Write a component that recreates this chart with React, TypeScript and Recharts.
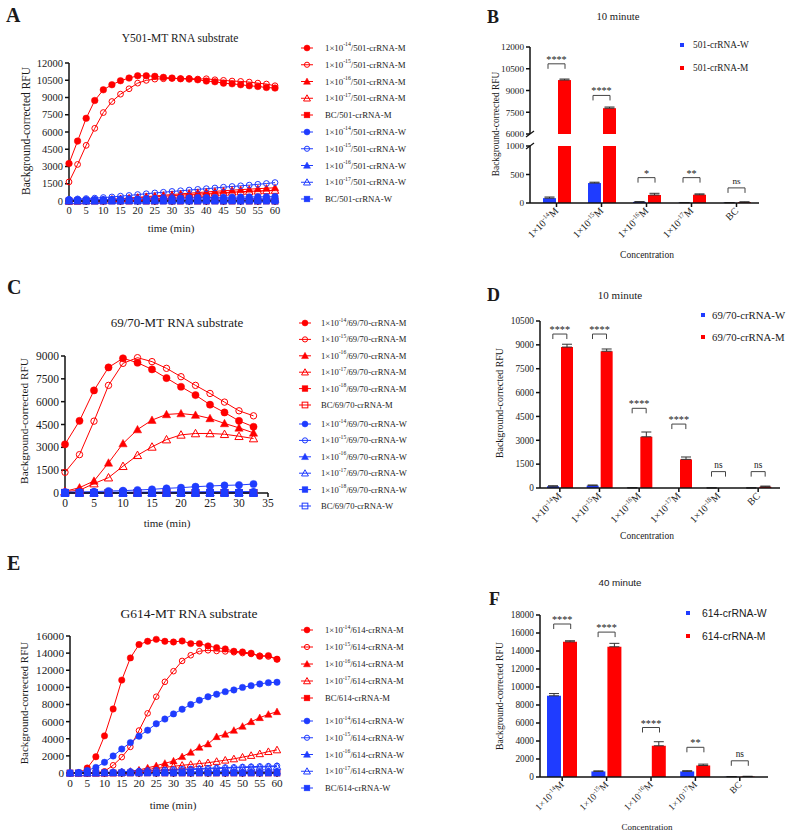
import React from 'react';
import { LineChart, Line, XAxis, YAxis, BarChart, Bar, ErrorBar, ReferenceDot } from 'recharts';

const SERIF = '"Liberation Serif", "Times New Roman", serif';
const SANS = '"Liberation Sans", Arial, sans-serif';
const INK = '#1a1a1a';
const RED = '#ff0000';
const BLUE = '#1f3cff';
const AX = { stroke: '#111', strokeWidth: 1.5 };

// ---------- A: Y501-MT RNA substrate ----------
const timeA = [0, 2.5, 5, 7.5, 10, 12.5, 15, 17.5, 20, 22.5, 25, 27.5, 30, 32.5, 35, 37.5, 40, 42.5, 45, 47.5, 50, 52.5, 55, 57.5, 60];
const a14M = [3260, 5210, 7190, 8740, 9670, 10110, 10460, 10690, 10890, 10890, 10840, 10750, 10690, 10630, 10600, 10540, 10430, 10370, 10250, 10190, 10110, 10020, 9960, 9870, 9820];
const a15M = [1660, 3180, 4840, 6320, 7690, 8650, 9290, 9760, 10250, 10490, 10600, 10630, 10660, 10630, 10660, 10600, 10630, 10540, 10490, 10430, 10400, 10340, 10250, 10170, 10020];
const a16M = [0, 20, 40, 70, 100, 150, 200, 260, 320, 380, 440, 500, 560, 620, 680, 730, 790, 840, 890, 940, 990, 1030, 1070, 1110, 1150];
const a17M = [0, 10, 30, 50, 80, 120, 160, 210, 260, 310, 360, 410, 460, 510, 560, 600, 650, 690, 730, 770, 810, 840, 870, 900, 930];
const aBCM = [0, 0, 10, 0, 0, 10, 0, 0, 10, 0, 0, 10, 0, 0, 10, 0, 0, 10, 0, 0, 10, 0, 0, 10, 0];
const a14W = [100, 110, 110, 120, 130, 140, 150, 170, 180, 200, 210, 230, 240, 260, 270, 290, 300, 310, 320, 330, 340, 350, 360, 370, 380];
const a15W = [150, 180, 210, 250, 300, 350, 420, 480, 560, 630, 700, 760, 830, 890, 950, 1010, 1070, 1130, 1200, 1260, 1320, 1380, 1450, 1520, 1600];
const a16W = [60, 60, 70, 70, 80, 80, 90, 100, 100, 110, 120, 130, 140, 150, 160, 170, 180, 190, 200, 200, 210, 220, 230, 240, 250];
const a17W = [20, 20, 30, 30, 40, 40, 50, 50, 60, 60, 70, 70, 80, 80, 90, 90, 100, 100, 110, 110, 120, 120, 130, 130, 140];
const aBCW = [0, 5, 0, 0, 5, 0, 0, 5, 0, 0, 5, 0, 0, 5, 0, 0, 5, 0, 0, 5, 0, 0, 5, 0, 0];
const aXTicks = [0, 5, 10, 15, 20, 25, 30, 35, 40, 45, 50, 55, 60];
const aYTicks = [0, 1500, 3000, 4500, 6000, 7500, 9000, 10500, 12000];

// ---------- C: 69/70-MT RNA substrate ----------
const timeC = [0, 2.5, 5, 7.5, 10, 12.5, 15, 17.5, 20, 22.5, 25, 27.5, 30, 32.5];
const c14M = [3200, 4740, 6740, 8250, 8850, 8560, 8120, 7550, 6980, 6430, 5800, 5290, 4740, 4350];
const c15M = [1360, 2520, 4720, 7070, 8520, 8890, 8630, 8190, 7640, 7070, 6540, 5970, 5400, 5070];
const c16M = [110, 350, 790, 1980, 3250, 4170, 4790, 5160, 5220, 5120, 4900, 4570, 4280, 3950];
const c17M = [90, 180, 620, 1010, 1760, 2480, 3030, 3510, 3820, 3910, 3910, 3860, 3730, 3580];
const c18M = [30, 25, 20, 25, 30, 20, 25, 30, 20, 25, 30, 25, 20, 25];
const cBCM = [0, 5, 0, 5, 0, 5, 0, 0, 5, 0, 0, 5, 0, 0];
const c14W = [60, 66, 88, 131, 153, 197, 240, 307, 350, 415, 460, 500, 525, 590];
const c15W = [40, 42, 50, 52, 60, 58, 66, 70, 74, 78, 85, 88, 92, 96];
const c16W = [20, 22, 25, 24, 28, 30, 32, 30, 35, 36, 38, 40, 40, 42];
const c17W = [10, 12, 10, 15, 14, 16, 18, 15, 20, 18, 22, 20, 24, 22];
const c18W = [0, 2, 0, 3, 2, 0, 4, 2, 0, 3, 2, 4, 2, 3];
const cBCW = [0, 0, 2, 0, 0, 3, 0, 0, 2, 0, 0, 2, 0, 0];
const cXTicks = [0, 5, 10, 15, 20, 25, 30, 35];
const cYTicks = [0, 1500, 3000, 4500, 6000, 7500, 9000];

// ---------- E: G614-MT RNA substrate ----------
const timeE = [0, 2.5, 5, 7.5, 10, 12.5, 15, 17.5, 20, 22.5, 25, 27.5, 30, 32.5, 35, 37.5, 40, 42.5, 45, 47.5, 50, 52.5, 55, 57.5, 60];
const e14M = [0, 0, 580, 1900, 4340, 7480, 10850, 13440, 15000, 15380, 15610, 15380, 15300, 15420, 15110, 15110, 14840, 14640, 14490, 14220, 14140, 13990, 13640, 13710, 13290];
const e15M = [0, 0, 0, 20, 200, 900, 1850, 3050, 4960, 6970, 8910, 10650, 11890, 13090, 13750, 14220, 14330, 14250, 14200, 14100, 14000, 13900, 13700, 13600, 13300];
const e16M = [0, 0, 0, 0, 20, 50, 100, 200, 350, 600, 850, 1130, 1400, 1910, 2410, 3000, 3390, 4240, 4520, 4980, 5450, 5990, 6460, 6850, 7160];
const e17M = [0, 0, 0, 0, 10, 30, 60, 120, 250, 400, 550, 650, 780, 900, 1000, 1100, 1200, 1350, 1500, 1650, 1850, 2050, 2250, 2500, 2700];
const eBCM = [0, 0, 0, 10, 0, 0, 0, 0, 0, 10, 0, 0, 0, 0, 0, 0, 0, 0, 0, 0, 0, 0, 0, 0, 0];
const e14W = [0, 50, 300, 650, 1250, 1990, 2800, 3550, 4300, 5000, 5750, 6300, 6900, 7450, 8000, 8500, 8900, 9200, 9500, 9700, 10000, 10200, 10400, 10550, 10600];
const e15W = [0, 10, 30, 60, 90, 120, 160, 200, 240, 290, 330, 360, 400, 450, 480, 520, 560, 600, 640, 660, 710, 740, 770, 800, 840];
const e16W = [0, 10, 20, 30, 40, 50, 60, 60, 70, 80, 90, 100, 100, 110, 120, 130, 140, 150, 150, 160, 170, 180, 190, 200, 210];
const e17W = [0, 0, 10, 20, 40, 60, 90, 120, 160, 200, 240, 280, 320, 360, 400, 440, 480, 520, 560, 590, 630, 660, 690, 720, 760];
const eBCW = [0, 0, 0, 0, 0, 0, 0, 0, 0, 0, 0, 0, 0, 0, 0, 0, 0, 0, 0, 0, 0, 0, 0, 0, 0];
const eXTicks = [0, 5, 10, 15, 20, 25, 30, 35, 40, 45, 50, 55, 60];
const eYTicks = [0, 2000, 4000, 6000, 8000, 10000, 12000, 14000, 16000];

// ---------- B: 10 minute (501) ----------
const bCats = ['-14', '-15', '-16', '-17', 'BC'];
const bW = [85, 350, 20, 5, 5];
const bM = [9720, 7780, 140, 145, 15];
const bWErr = [20, 15, 5, 2, 2];
const bMErr = [70, 80, 30, 15, 5];
const bSig = ['****', '****', '*', '**', 'ns'];
const bSigAt = [10840, 8660, 445, 445, 265];

// ---------- D: 10 minute (69/70) ----------
const dCats = ['-14', '-15', '-16', '-17', '-18', 'BC'];
const dW = [110, 150, 10, 0, 5, 5];
const dM = [8860, 8600, 3220, 1800, 0, 80];
const dWErr = [30, 40, 5, 0, 3, 3];
const dMErr = [180, 140, 300, 150, 0, 40];
const dSig = ['****', '****', '****', '****', 'ns', 'ns'];
const dSigAt = [9680, 9680, 5010, 4020, 1030, 1030];

// ---------- F: 40 minute (614) ----------
const fCats = ['-14', '-15', '-16', '-17', 'BC'];
const fW = [9020, 620, 0, 620, 30];
const fM = [15020, 14470, 3470, 1280, 50];
const fWErr = [250, 60, 0, 80, 20];
const fMErr = [120, 380, 450, 150, 30];
const fSig = ['****', '****', '****', '**', 'ns'];
const fSigAt = [17000, 16100, 5500, 3300, 1800];

type Series = { values: number[]; color: string; shape: string; sup: string | null; tail: string };

const mk = (values: number[], color: string, shape: string, sup: string | null, tail: string): Series => ({ values, color, shape, sup, tail });

const aSeries = [
  mk(a14M, RED, 'circle', '-14', '/501-crRNA-M'),
  mk(a15M, RED, 'openCircle', '-15', '/501-crRNA-M'),
  mk(a16M, RED, 'tri', '-16', '/501-crRNA-M'),
  mk(a17M, RED, 'openTri', '-17', '/501-crRNA-M'),
  mk(aBCM, RED, 'square', null, 'BC/501-crRNA-M'),
  mk(a14W, BLUE, 'circle', '-14', '/501-crRNA-W'),
  mk(a15W, BLUE, 'openCircle', '-15', '/501-crRNA-W'),
  mk(a16W, BLUE, 'tri', '-16', '/501-crRNA-W'),
  mk(a17W, BLUE, 'openTri', '-17', '/501-crRNA-W'),
  mk(aBCW, BLUE, 'square', null, 'BC/501-crRNA-W'),
];

const cSeries = [
  mk(c14M, RED, 'circle', '-14', '/69/70-crRNA-M'),
  mk(c15M, RED, 'openCircle', '-15', '/69/70-crRNA-M'),
  mk(c16M, RED, 'tri', '-16', '/69/70-crRNA-M'),
  mk(c17M, RED, 'openTri', '-17', '/69/70-crRNA-M'),
  mk(c18M, RED, 'square', '-18', '/69/70-crRNA-M'),
  mk(cBCM, RED, 'openSquare', null, 'BC/69/70-crRNA-M'),
  mk(c14W, BLUE, 'circle', '-14', '/69/70-crRNA-W'),
  mk(c15W, BLUE, 'openCircle', '-15', '/69/70-crRNA-W'),
  mk(c16W, BLUE, 'tri', '-16', '/69/70-crRNA-W'),
  mk(c17W, BLUE, 'openTri', '-17', '/69/70-crRNA-W'),
  mk(c18W, BLUE, 'square', '-18', '/69/70-crRNA-W'),
  mk(cBCW, BLUE, 'openSquare', null, 'BC/69/70-crRNA-W'),
];

const eSeries = [
  mk(e14M, RED, 'circle', '-14', '/614-crRNA-M'),
  mk(e15M, RED, 'openCircle', '-15', '/614-crRNA-M'),
  mk(e16M, RED, 'tri', '-16', '/614-crRNA-M'),
  mk(e17M, RED, 'openTri', '-17', '/614-crRNA-M'),
  mk(eBCM, RED, 'square', null, 'BC/614-crRNA-M'),
  mk(e14W, BLUE, 'circle', '-14', '/614-crRNA-W'),
  mk(e15W, BLUE, 'openCircle', '-15', '/614-crRNA-W'),
  mk(e16W, BLUE, 'tri', '-16', '/614-crRNA-W'),
  mk(e17W, BLUE, 'openTri', '-17', '/614-crRNA-W'),
  mk(eBCW, BLUE, 'square', null, 'BC/614-crRNA-W'),
];

function Mark({ cx, cy, shape, color, r }: any) {
  if (cx == null || cy == null || isNaN(cx) || isNaN(cy)) return null;
  const open = shape.startsWith('open');
  const fill = open ? 'none' : color;
  const sw = open ? 1 : 0.5;
  if (shape === 'circle' || shape === 'openCircle') {
    return <circle cx={cx} cy={cy} r={open ? r - 0.4 : r} fill={fill} stroke={color} strokeWidth={sw} />;
  }
  if (shape === 'tri' || shape === 'openTri') {
    const h = r * 1.15;
    return <path d={`M${cx},${cy - h}L${cx + h},${cy + h * 0.8}L${cx - h},${cy + h * 0.8}Z`} fill={fill} stroke={color} strokeWidth={sw} />;
  }
  const s = r * 0.95;
  return <rect x={cx - s} y={cy - s} width={s * 2} height={s * 2} fill={fill} stroke={color} strokeWidth={sw} />;
}

function LinePanel({ left, top, width, height, margin, yWidth, time, series, xDomain, xTicks, yDomain, yTicks, fs, r }: any) {
  const rows = time.map((t: number, i: number) => {
    const row: any = { t };
    series.forEach((s: Series, j: number) => { row['s' + j] = s.values[i]; });
    return row;
  });
  return (
    <div style={{ position: 'absolute', left, top }}>
      <LineChart width={width} height={height} data={rows} margin={margin}>
        <XAxis type="number" dataKey="t" domain={xDomain} ticks={xTicks} interval={0} height={25}
          tickSize={4} tickMargin={2} axisLine={AX} tickLine={AX}
          tick={{ fontSize: fs, fontFamily: SERIF, fill: INK }} />
        <YAxis type="number" domain={yDomain} ticks={yTicks} interval={0} width={yWidth}
          tickSize={4} tickMargin={2} axisLine={AX} tickLine={AX}
          tick={{ fontSize: fs, fontFamily: SERIF, fill: INK }} />
        {series.map((s: Series, j: number) => (
          <Line key={j} type="linear" dataKey={'s' + j} stroke={s.color} strokeWidth={1}
            dot={(p: any) => <Mark key={`${j}-${p.index}`} cx={p.cx} cy={p.cy} shape={s.shape} color={s.color} r={r} />}
            activeDot={false} isAnimationActive={false} />
        ))}
      </LineChart>
    </div>
  );
}

function ConcTick({ x, y, payload, fs }: any) {
  const v = payload.value;
  return (
    <g transform={`translate(${x},${y})`}>
      <text transform="rotate(-45)" textAnchor="end" fontSize={fs} fontFamily={SERIF} fill={INK} dy={fs * 0.35}>
        {v === 'BC' ? 'BC' : (
          <>
            1×10<tspan dy={-fs * 0.4} fontSize={fs * 0.65}>{v}</tspan><tspan dy={fs * 0.4}>M</tspan>
          </>
        )}
      </text>
    </g>
  );
}

function Bracket({ cx, cy, label, half, fs }: any) {
  if (cx == null || cy == null) return null;
  const stars = label !== 'ns';
  return (
    <g>
      <path d={`M${cx - half},${cy + 5}V${cy}H${cx + half}V${cy + 5}`} fill="none" stroke="#444" strokeWidth={1} />
      <text x={cx} y={stars ? cy - 1 : cy - 4} textAnchor="middle" fontSize={stars ? fs + 1 : fs} fontFamily={SERIF} fill={INK}>{label}</text>
    </g>
  );
}

function BarPanel({ left, top, width, height, margin, rows, yDomain, yTicks, overflow, hideX, xPad, barSize, tickFs, xFs, brackets, half, xHeight, wErr }: any) {
  return (
    <div style={{ position: 'absolute', left, top }}>
      <BarChart width={width} height={height} data={rows} margin={margin} barGap={2} barSize={barSize}>
        <XAxis dataKey="cat" hide={hideX} height={xHeight} padding={xPad} interval={0} tickSize={4} tickMargin={2}
          axisLine={AX} tickLine={AX} tick={(p: any) => <ConcTick {...p} fs={xFs} />} />
        <YAxis type="number" domain={yDomain} ticks={yTicks} interval={0} allowDataOverflow={overflow} width={45}
          tickSize={4} tickMargin={2} axisLine={AX} tickLine={AX}
          tick={{ fontSize: tickFs, fontFamily: SERIF, fill: INK }} />
        <Bar dataKey="w" fill={BLUE} isAnimationActive={false}>
          {wErr && <ErrorBar dataKey="wErr" width={5} stroke="#333" strokeWidth={1} direction="y" />}
        </Bar>
        <Bar dataKey="m" fill={RED} isAnimationActive={false}>
          <ErrorBar dataKey="mErr" width={5} stroke="#333" strokeWidth={1} direction="y" />
        </Bar>
        {brackets.map((b: any) => (
          <ReferenceDot key={b.cat} x={b.cat} y={b.y} r={0} ifOverflow="visible"
            shape={(p: any) => <Bracket cx={p.cx} cy={p.cy} label={b.label} half={half} fs={tickFs} />} />
        ))}
      </BarChart>
    </div>
  );
}

function Conc({ x, y, fs, sup, tail, family = SERIF }: any) {
  return (
    <text x={x} y={y} fontSize={fs} fontFamily={family} fill={INK} dominantBaseline="central">
      {sup === null ? tail : (
        <>
          1×10<tspan dy={-fs * 0.4} fontSize={fs * 0.65}>{sup}</tspan><tspan dy={fs * 0.4}>{tail}</tspan>
        </>
      )}
    </text>
  );
}

function LineLegend({ x, textX, ys, series, fs, r }: any) {
  return (
    <g>
      {series.map((s: Series, i: number) => (
        <g key={i}>
          <line x1={x - 6} x2={x + 6} y1={ys[i]} y2={ys[i]} stroke={s.color} strokeWidth={1} />
          <Mark cx={x} cy={ys[i]} shape={s.shape} color={s.color} r={r} />
          <Conc x={textX} y={ys[i]} fs={fs} sup={s.sup} tail={s.tail} />
        </g>
      ))}
    </g>
  );
}

function T({ x, y, fs, children, anchor = 'start', weight = 'normal', family = SERIF, rotate = false }: any) {
  if (rotate) {
    return (
      <text transform={`translate(${x},${y}) rotate(-90)`} textAnchor="middle" dominantBaseline="central"
        fontSize={fs} fontFamily={family} fill={INK}>{children}</text>
    );
  }
  return (
    <text x={x} y={y} fontSize={fs} textAnchor={anchor} fontFamily={family} fontWeight={weight}
      fill={INK} dominantBaseline="central">{children}</text>
  );
}

const rowsSplit = (n: number, start: number, step: number, n2: number, start2: number, step2: number) => {
  const out: number[] = [];
  for (let i = 0; i < n; i++) out.push(start + i * step);
  for (let j = 0; j < n2; j++) out.push(start2 + j * step2);
  return out;
};

const sigList = (cats: string[], sig: string[], at: number[], keep: (v: number) => boolean) =>
  cats.map((cat, i) => ({ cat, label: sig[i], y: at[i] })).filter((b) => keep(b.y));

export default function App() {
  const bTop = bCats.map((cat, i) => ({
    cat,
    w: bW[i] > 6000 ? bW[i] : null,
    m: bM[i] > 6000 ? bM[i] : null,
    mErr: bM[i] > 6000 ? [0, bMErr[i]] : null,
  }));
  const bBottom = bCats.map((cat, i) => ({ cat, w: bW[i], m: bM[i], wErr: [0, bWErr[i]], mErr: [0, bMErr[i]] }));
  const dRows = dCats.map((cat, i) => ({ cat, w: dW[i], m: dM[i], wErr: [0, dWErr[i]], mErr: [0, dMErr[i]] }));
  const fRows = fCats.map((cat, i) => ({ cat, w: fW[i], m: fM[i], wErr: [0, fWErr[i]], mErr: [0, fMErr[i]] }));

  return (
    <div style={{ position: 'absolute', left: 0, top: 0, width: 789, height: 833, background: '#fff', overflow: 'hidden' }}>
      <LinePanel left={0} top={0} width={300} height={240} margin={{ top: 63, right: 25, bottom: 14, left: 29 }}
        yWidth={40} time={timeA} series={aSeries} xDomain={[0, 60]} xTicks={aXTicks} yDomain={[0, 12000]} yTicks={aYTicks} fs={10.5} r={3.3} />
      <LinePanel left={0} top={270} width={300} height={270} margin={{ top: 86, right: 32, bottom: 22, left: 25 }}
        yWidth={40} time={timeC} series={cSeries} xDomain={[0, 35]} xTicks={cXTicks} yDomain={[0, 9000]} yTicks={cYTicks} fs={11.5} r={3.6} />
      <LinePanel left={0} top={545} width={300} height={288} margin={{ top: 91, right: 23, bottom: 35, left: 25 }}
        yWidth={45} time={timeE} series={eSeries} xDomain={[0, 60]} xTicks={eXTicks} yDomain={[0, 16000]} yTicks={eYTicks} fs={11.2} r={3.2} />

      <BarPanel left={480} top={0} width={300} height={140} margin={{ top: 47, right: 21, bottom: 6, left: 5 }}
        rows={bTop} yDomain={[6000, 12000]} yTicks={[6000, 7500, 9000, 10500, 12000]} overflow hideX xPad={{ left: 4, right: 0 }}
        barSize={13} tickFs={9.2} xFs={10} brackets={sigList(bCats, bSig, bSigAt, (v) => v > 1000)} half={8.5} xHeight={55} wErr={false} />
      <BarPanel left={480} top={131} width={300} height={134} margin={{ top: 15, right: 21, bottom: 7, left: 5 }}
        rows={bBottom} yDomain={[0, 1000]} yTicks={[0, 500, 1000]} overflow hideX={false} xPad={{ left: 4, right: 0 }}
        barSize={13} tickFs={9.2} xFs={10} brackets={sigList(bCats, bSig, bSigAt, (v) => v <= 1000)} half={8.5} xHeight={55} wErr />
      <BarPanel left={480} top={270} width={309} height={280} margin={{ top: 51, right: 9, bottom: 7, left: 15 }}
        rows={dRows} yDomain={[0, 10500]} yTicks={[0, 1500, 3000, 4500, 6000, 7500, 9000, 10500]} overflow={false} hideX={false}
        xPad={{ left: 0, right: 2 }} barSize={12} tickFs={9.3} xFs={10} brackets={sigList(dCats, dSig, dSigAt, () => true)} half={7} xHeight={55} wErr />
      <BarPanel left={480} top={545} width={309} height={288} margin={{ top: 70, right: 21, bottom: 6, left: 15 }}
        rows={fRows} yDomain={[0, 18000]} yTicks={[0, 2000, 4000, 6000, 8000, 10000, 12000, 14000, 16000, 18000]} overflow={false} hideX={false}
        xPad={{ left: 0, right: 6 }} barSize={14} tickFs={9.3} xFs={9.5} brackets={sigList(fCats, fSig, fSigAt, () => true)} half={8.5} xHeight={50} wErr />

      <svg width={789} height={833} style={{ position: 'absolute', left: 0, top: 0, pointerEvents: 'none' }}>
        {/* panel letters */}
        <T x={6} y={15} fs={20} weight="bold">A</T>
        <T x={7} y={287} fs={20} weight="bold">C</T>
        <T x={7} y={563} fs={20} weight="bold">E</T>
        <T x={487} y={17} fs={18} weight="bold">B</T>
        <T x={487} y={295} fs={18} weight="bold">D</T>
        <T x={489} y={599} fs={18} weight="bold">F</T>

        {/* A */}
        <T x={180} y={38} fs={11.5} anchor="middle">Y501-MT RNA substrate</T>
        <T x={26} y={131} fs={11.5} rotate>Background-corrected RFU</T>
        <T x={171} y={228} fs={11} anchor="middle">time (min)</T>
        <LineLegend x={307} textX={325} ys={rowsSplit(5, 48, 16.75, 5, 132, 16.75)} series={aSeries} fs={8.8} r={3} />

        {/* C */}
        <T x={177} y={322} fs={13} anchor="middle">69/70-MT RNA substrate</T>
        <T x={24} y={421} fs={11.3} rotate>Background-corrected RFU</T>
        <T x={167} y={523} fs={11} anchor="middle">time (min)</T>
        <LineLegend x={305} textX={321} ys={rowsSplit(6, 323, 16.4, 6, 424, 16.4)} series={cSeries} fs={8.6} r={3} />

        {/* E */}
        <T x={189} y={613} fs={13.5} anchor="middle">G614-MT RNA substrate</T>
        <T x={24} y={703} fs={11} rotate>Background-corrected RFU</T>
        <T x={173} y={805} fs={11} anchor="middle">time (min)</T>
        <LineLegend x={307} textX={325} ys={rowsSplit(5, 630, 17, 5, 721, 16.75)} series={eSeries} fs={8.6} r={3} />

        {/* B */}
        <T x={618} y={16} fs={10.7} anchor="middle">10 minute</T>
        <T x={496} y={124} fs={9.4} rotate>Background-corrected RFU</T>
        <T x={647} y={255} fs={9.5} anchor="middle">Concentration</T>
        <line x1={526} y1={137} x2={534} y2={131} stroke="#111" strokeWidth={1.2} />
        <line x1={526} y1={149} x2={534} y2={143} stroke="#111" strokeWidth={1.2} />
        <rect x={680} y={43} width={4} height={4} fill={BLUE} />
        <T x={693} y={45} fs={9.3}>501-crRNA-W</T>
        <rect x={680} y={66} width={4} height={4} fill={RED} />
        <T x={693} y={68} fs={9.3}>501-crRNA-M</T>

        {/* D */}
        <T x={620} y={295} fs={11} anchor="middle">10 minute</T>
        <T x={499} y={403} fs={9.9} rotate>Background-corrected RFU</T>
        <T x={647} y={536} fs={9.5} anchor="middle">Concentration</T>
        <rect x={701} y={313} width={4} height={4} fill={BLUE} />
        <T x={712} y={315} fs={10.8}>69/70-crRNA-W</T>
        <rect x={701} y={335} width={4} height={4} fill={RED} />
        <T x={712} y={337} fs={10.8}>69/70-crRNA-M</T>

        {/* F */}
        <T x={620} y={582} fs={9.8} anchor="middle" family={SANS}>40 minute</T>
        <T x={499} y={696} fs={9.7} rotate>Background-corrected RFU</T>
        <T x={647} y={827} fs={9} anchor="middle">Concentration</T>
        <rect x={686} y={611} width={4} height={4} fill={BLUE} />
        <T x={702} y={613} fs={10.4} family={SANS}>614-crRNA-W</T>
        <rect x={686} y={634} width={4} height={4} fill={RED} />
        <T x={702} y={636} fs={10.4} family={SANS}>614-crRNA-M</T>
      </svg>
    </div>
  );
}
